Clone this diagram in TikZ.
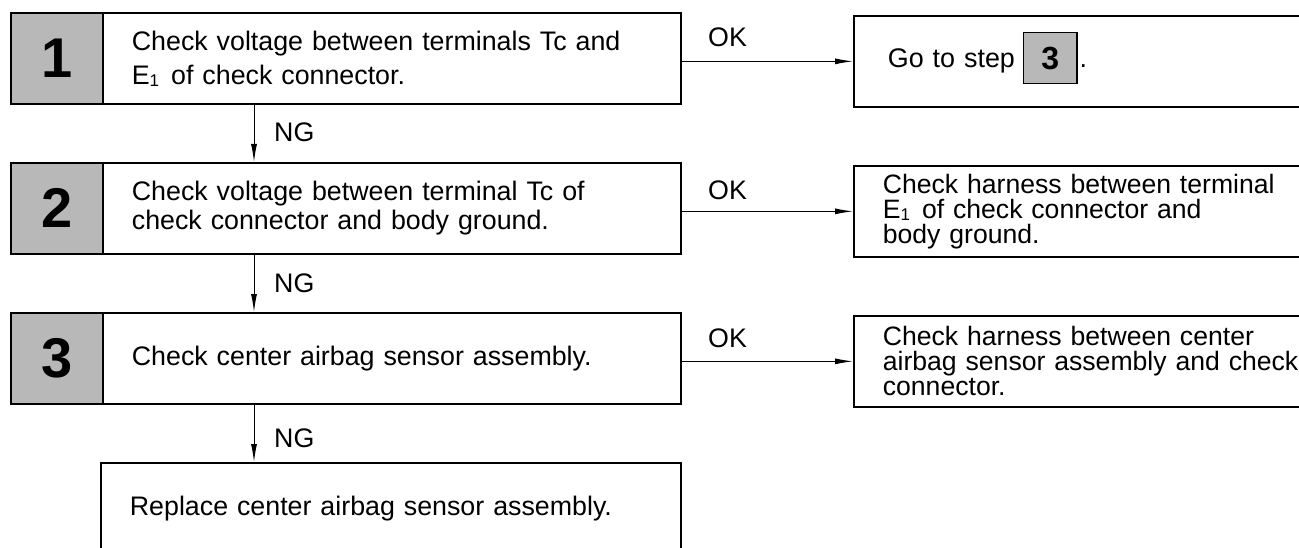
\documentclass[tikz,border=0pt]{standalone}
\usepackage{fontspec}
\setmainfont{Liberation Sans}
\usetikzlibrary{arrows.meta}
\definecolor{halftone}{gray}{0.72}
\newcommand{\subone}{\raisebox{-2pt}[0pt][0pt]{\fontsize{17}{17}\selectfont 1}}
\newcommand{\stepref}[1]{\raisebox{-15pt}[0pt][0pt]{\setlength{\fboxsep}{0pt}\setlength{\fboxrule}{1.3pt}\fcolorbox{black}{halftone}{\rule{0pt}{50pt}\makebox[52pt]{\raisebox{13.5pt}{\fontsize{32}{32}\selectfont\bfseries #1}}}}}
\begin{document}
\begin{tikzpicture}[x=1pt,y=-1pt,
  boxline/.style={draw,line width=1.7pt},
  numbox/.style={boxline,fill=halftone,minimum width=92pt,minimum height=91pt,inner sep=0pt,anchor=north west,font=\fontsize{56}{56}\selectfont\bfseries},
  mainbox/.style={boxline,minimum width=578pt,minimum height=91pt,inner xsep=29pt,inner ysep=0pt,text width=520pt,align=left,anchor=north west,font=\fontsize{26.8}{29}\selectfont},
  sidebox/.style={boxline,minimum width=500pt,minimum height=91pt,inner xsep=29pt,inner ysep=0pt,text width=442pt,align=left,anchor=north west,font=\fontsize{26.6}{25}\selectfont},
  lbl/.style={anchor=base west,inner sep=0pt,font=\fontsize{26.8}{29}\selectfont},
  flow/.style={line width=1pt,-{Latex[length=18pt,width=6pt]}}
]
\clip (0,0) rectangle (1299,548);
% step 1
\node[numbox] (n1) at (10,12) {1};
\node[mainbox,font=\fontsize{26.8}{34}\selectfont] (b1) at (102,12) {Check voltage between terminals Tc and\\E\subone\hspace{12pt}of check connector.};
\node[sidebox,inner xsep=34pt,text width=432pt,font=\fontsize{26.9}{29}\selectfont] (r1) at (853,15) {Go to step\hspace{8pt}\stepref{3}\hspace{2pt}.};
% step 2
\node[numbox] (n2) at (10,162) {2};
\node[mainbox] (b2) at (102,162) {Check voltage between terminal Tc of\\check connector and body ground.};
\node[sidebox] (r2) at (853,165) {Check harness between terminal\\E\subone\hspace{12pt}of check connector and\\body ground.};
% step 3
\node[numbox] (n3) at (10,312) {3};
\node[mainbox] (b3) at (102,312) {Check center airbag sensor assembly.};
\node[sidebox] (r3) at (853,315) {Check harness between center\\airbag sensor assembly and check\\connector.};
% step 4
\node[mainbox,minimum width=580pt,text width=522pt,minimum height=92pt] (b4) at (100,462) {Replace center airbag sensor assembly.};
% OK arrows
\draw[flow] (r1.west -| b1.east) -- (r1.west);
\draw[flow] (r2.west -| b2.east) -- (r2.west);
\draw[flow] (r3.west -| b3.east) -- (r3.west);
\node[lbl] (ok1) at (708,47) {OK};
\node[lbl] (ok2) at (708,200) {OK};
\node[lbl] (ok3) at (708,347) {OK};
% NG arrows
\draw[flow] ([xshift=152pt]b1.south west) -- ([xshift=152pt]b2.north west);
\draw[flow] ([xshift=152pt]b2.south west) -- ([xshift=152pt]b3.north west);
\draw[flow] ([xshift=152pt]b3.south west) -- ([xshift=154pt]b4.north west);
\node[lbl] (ng1) at (274,142) {NG};
\node[lbl] (ng2) at (274,293) {NG};
\node[lbl] (ng3) at (274,447) {NG};
\end{tikzpicture}
\end{document}
